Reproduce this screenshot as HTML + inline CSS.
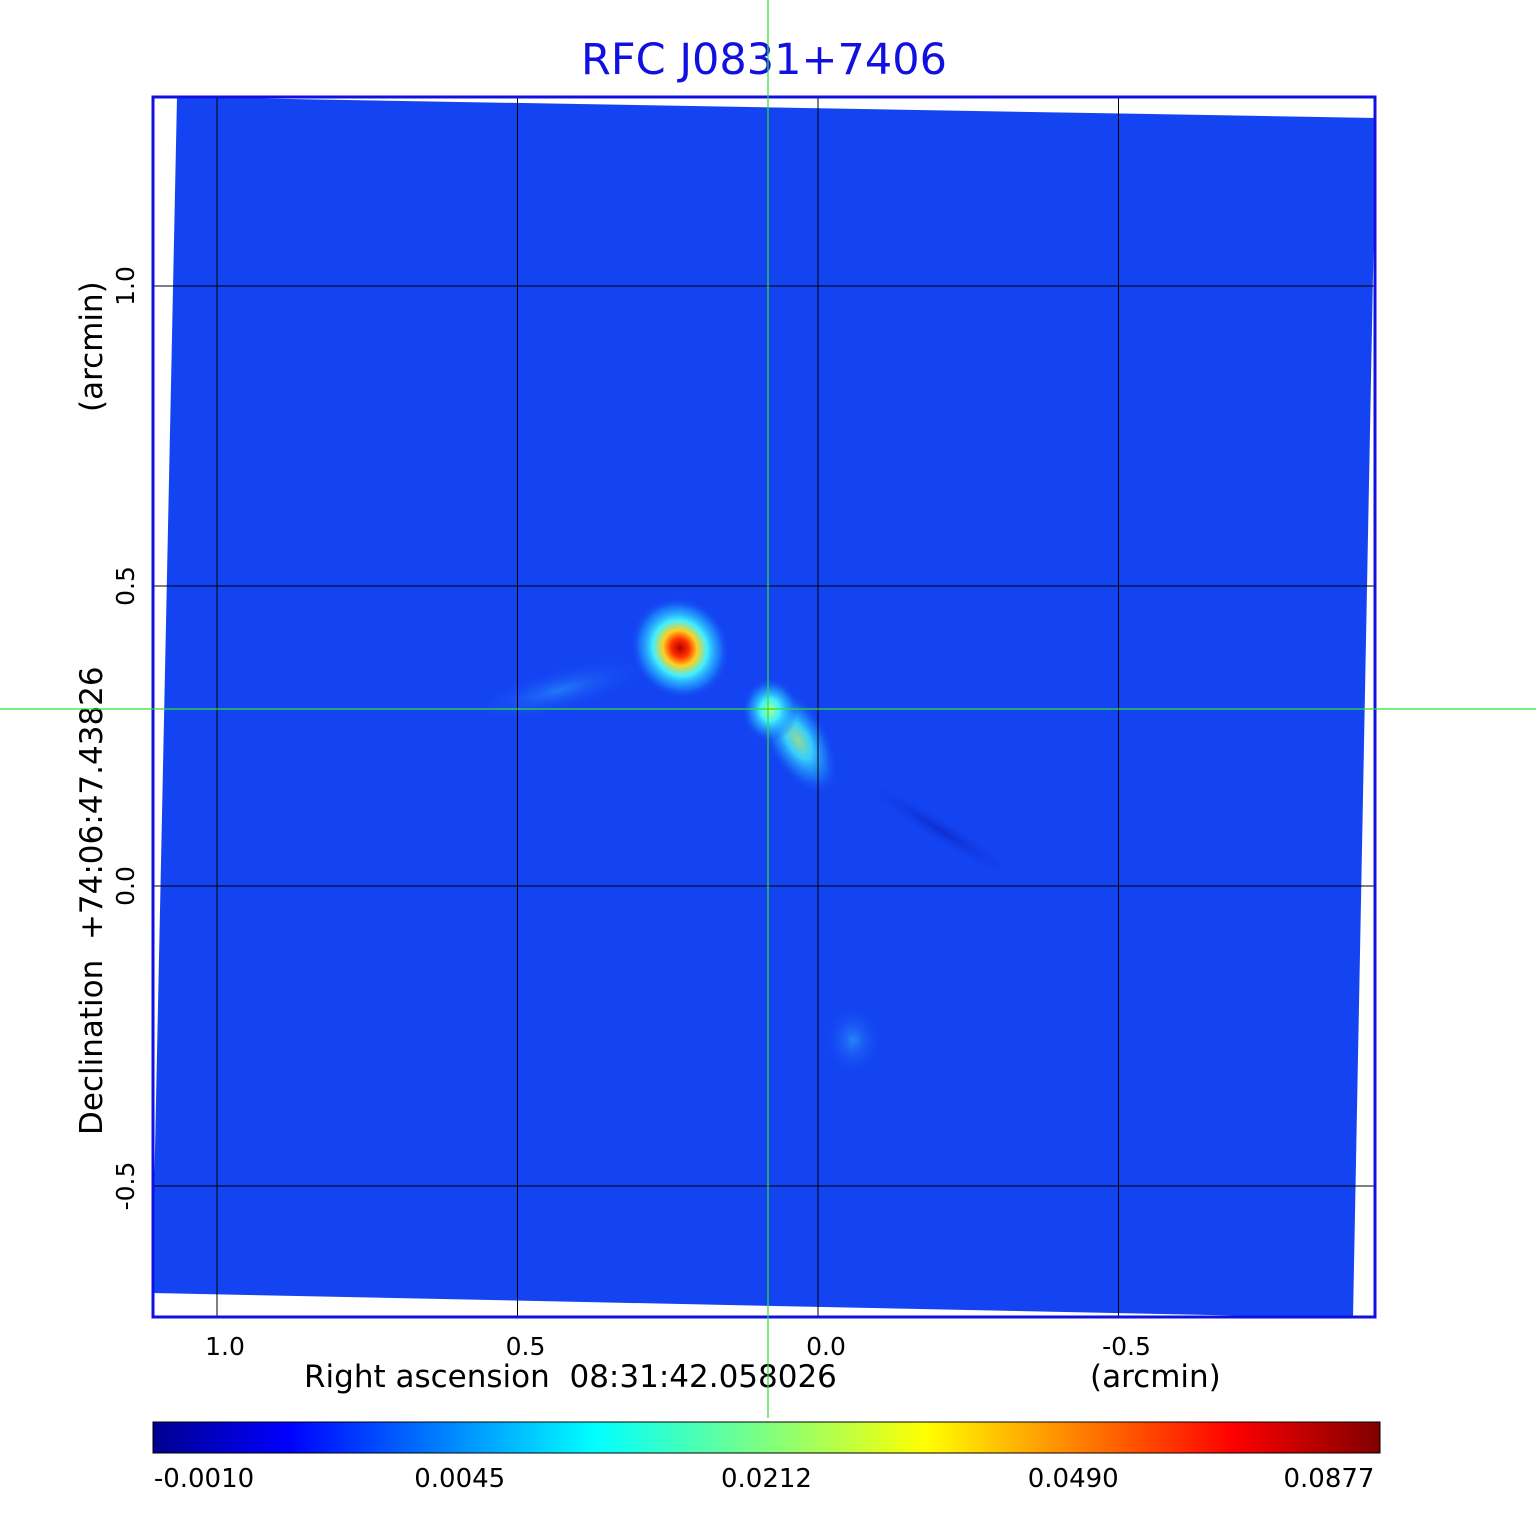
<!DOCTYPE html>
<html><head><meta charset="utf-8"><style>
body{margin:0;background:#fff;width:1536px;height:1511px;overflow:hidden;font-family:"Liberation Sans","DejaVu Sans",sans-serif}
svg text{font-family:"DejaVu Sans","Liberation Sans",sans-serif}
</style></head><body>
<svg id="chart" width="1536" height="1511" xmlns="http://www.w3.org/2000/svg">
<defs>
<linearGradient id="jet" x1="0" x2="1" y1="0" y2="0">
<stop offset="0" stop-color="#00008f"/><stop offset="0.11" stop-color="#0000ff"/>
<stop offset="0.36" stop-color="#00ffff"/><stop offset="0.5" stop-color="#7fff7f"/>
<stop offset="0.63" stop-color="#ffff00"/><stop offset="0.88" stop-color="#ff0000"/>
<stop offset="1" stop-color="#800000"/></linearGradient>
<radialGradient id="main"><stop offset="0" stop-color="#b00000"/><stop offset="0.18" stop-color="#ff3000"/><stop offset="0.35" stop-color="#ffd020"/><stop offset="0.55" stop-color="#40f0ff"/><stop offset="0.8" stop-color="#20a0ff" stop-opacity="0.6"/><stop offset="1" stop-color="#1444f2" stop-opacity="0"/></radialGradient>
<radialGradient id="second"><stop offset="0" stop-color="#b0ff80"/><stop offset="0.35" stop-color="#40f0ff"/><stop offset="0.7" stop-color="#20a0ff" stop-opacity="0.6"/><stop offset="1" stop-color="#1444f2" stop-opacity="0"/></radialGradient>
<radialGradient id="faint"><stop offset="0" stop-color="#30b0ff"/><stop offset="1" stop-color="#1444f2" stop-opacity="0"/></radialGradient>
<radialGradient id="dark"><stop offset="0" stop-color="#0a28c8"/><stop offset="1" stop-color="#1444f2" stop-opacity="0"/></radialGradient>
</defs>
<text x="764" y="74" font-size="43" fill="#1010e0" text-anchor="middle">RFC J0831+7406</text>
<polygon points="177,97 1376,118 1353,1318 152,1293" fill="#1444f2"/>
<g>
<ellipse cx="560" cy="690" rx="90" ry="22" transform="rotate(-15 560 690)" fill="url(#faint)" opacity="0.5"/>
<ellipse cx="798" cy="740" rx="30" ry="60" transform="rotate(-30 798 740)" fill="url(#second)" opacity="0.8"/>
<ellipse cx="770" cy="710" rx="28" ry="32" fill="url(#second)"/>
<ellipse cx="680" cy="648" rx="48" ry="52" transform="rotate(-35 680 648)" fill="url(#main)"/>
<ellipse cx="853" cy="1040" rx="28" ry="34" fill="url(#faint)" opacity="0.6"/>
<ellipse cx="940" cy="830" rx="110" ry="14" transform="rotate(32 940 830)" fill="url(#dark)" opacity="0.8"/>
</g>
<g id="grid" stroke="#000" stroke-width="1"></g>
<rect x="153" y="97" width="1222" height="1220" fill="none" stroke="#1010e0" stroke-width="3"/>
<g id="ticks" font-size="25" fill="#000"></g>
<text x="304" y="1387" font-size="31" xml:space="preserve">Right ascension  08:31:42.058026</text>
<text x="1090" y="1387" font-size="31">(arcmin)</text>
<text transform="translate(102,1135) rotate(-90)" font-size="31" xml:space="preserve">Declination  +74:06:47.43826</text>
<text transform="translate(102,412) rotate(-90)" font-size="31">(arcmin)</text>
<line x1="768" y1="0" x2="768" y2="1418" stroke="#30e030" stroke-width="1.2"/>
<line x1="0" y1="709" x2="1536" y2="709" stroke="#30e030" stroke-width="1.2"/>
<rect x="153" y="1422" width="1227" height="31" fill="url(#jet)" stroke="#000" stroke-width="1"/>
<g id="cbticks" font-size="26" fill="#000"></g>
</svg>
<script>
const raTicks=[1.0,0.5,0.0,-0.5];
const decTicks=[1.0,0.5,0.0,-0.5];
const cbLabels=["-0.0010","0.0045","0.0212","0.0490","0.0877"];
const xRA=v=>818-v*601;
const yDec=v=>886-v*600;
const NS="http://www.w3.org/2000/svg";
const grid=document.getElementById('grid'),ticks=document.getElementById('ticks'),cb=document.getElementById('cbticks');
raTicks.forEach(v=>{
 const l=document.createElementNS(NS,'line');
 
 
 l.setAttribute('x1',xRA(v));l.setAttribute('x2',xRA(v));l.setAttribute('y1',97);l.setAttribute('y2',1317);
 grid.appendChild(l);
 const t=document.createElementNS(NS,'text');
 
 
 t.setAttribute('x',xRA(v)+8);t.setAttribute('y',1355);t.setAttribute('text-anchor','middle');
 t.textContent=v.toFixed(1);ticks.appendChild(t);
});
decTicks.forEach(v=>{
 const l=document.createElementNS(NS,'line');
 
 
 l.setAttribute('x1',153);l.setAttribute('x2',1375);l.setAttribute('y1',yDec(v));l.setAttribute('y2',yDec(v));
 grid.appendChild(l);
 const t=document.createElementNS(NS,'text');
 
 
 t.setAttribute('transform','translate(134,'+yDec(v)+') rotate(-90)');t.setAttribute('text-anchor','middle');
 t.textContent=v.toFixed(1);ticks.appendChild(t);
});
cbLabels.forEach((s,i)=>{
 const t=document.createElementNS(NS,'text');
 
 
 t.setAttribute('x',153+i*1227/(cbLabels.length-1)+(i==0?51:i==cbLabels.length-1?-51:0));t.setAttribute('y',1487);t.setAttribute('text-anchor','middle');
 t.textContent=s;cb.appendChild(t);
});
</script>
</body></html>
